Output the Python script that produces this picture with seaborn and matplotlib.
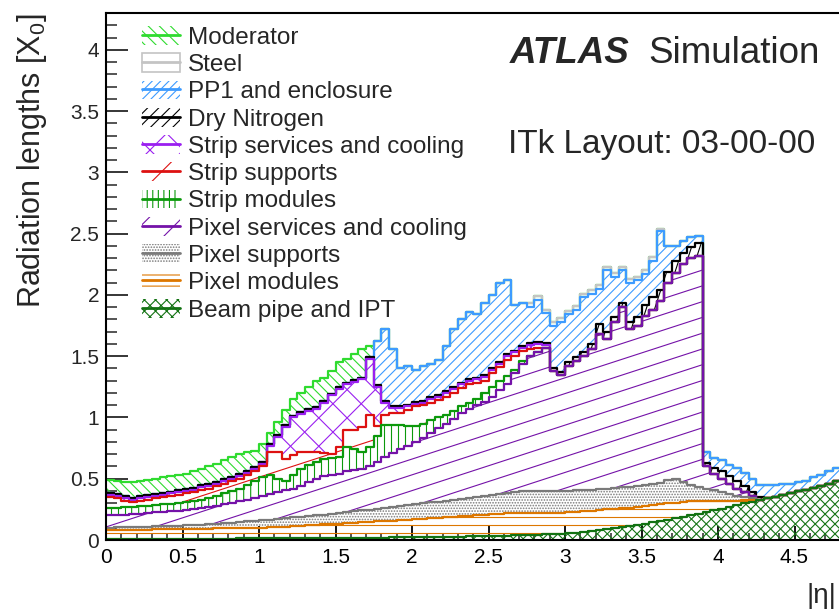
import numpy as np
import matplotlib
matplotlib.use("Agg")
import matplotlib.pyplot as plt
import seaborn as sns
from matplotlib.collections import LineCollection
from matplotlib.patches import Patch
from matplotlib.lines import Line2D
from matplotlib.legend_handler import HandlerTuple
from matplotlib.ticker import MultipleLocator, FixedLocator, FuncFormatter

sns.set_theme(style="ticks")
plt.rcParams["font.family"] = ["Liberation Sans", "DejaVu Sans"]
plt.rcParams["mathtext.fontset"] = "custom"
plt.rcParams["mathtext.rm"] = "Liberation Sans"
plt.rcParams["mathtext.it"] = "Liberation Sans:italic"
plt.rcParams["hatch.linewidth"] = 0.8

# |eta| bins, width 0.05
eta_edges = np.linspace(0, 5, 101)
x_ticks = [0, 0.5, 1, 1.5, 2, 2.5, 3, 3.5, 4, 4.5]

# upper edge of each stacked layer per bin (0 = layer absent in that bin)
beam_pipe_top = [
    0.010, 0.010, 0.010, 0.010, 0.010, 0.010, 0.010, 0.010, 0.011, 0.011,
    0.011, 0.011, 0.011, 0.012, 0.012, 0.012, 0.012, 0.013, 0.013, 0.013,
    0.013, 0.014, 0.014, 0.014, 0.015, 0.015, 0.015, 0.016, 0.016, 0.017,
    0.017, 0.018, 0.018, 0.019, 0.019, 0.020, 0.020, 0.021, 0.021, 0.022,
    0.022, 0.023, 0.024, 0.025, 0.026, 0.027, 0.028, 0.029, 0.030, 0.032,
    0.033, 0.035, 0.036, 0.038, 0.040, 0.042, 0.044, 0.046, 0.049, 0.052,
    0.055, 0.060, 0.066, 0.072, 0.080, 0.088, 0.096, 0.105, 0.114, 0.123,
    0.133, 0.143, 0.154, 0.166, 0.178, 0.190, 0.203, 0.216, 0.229, 0.242,
    0.256, 0.270, 0.284, 0.298, 0.312, 0.326, 0.340, 0.354, 0.368, 0.382,
    0.396, 0.410, 0.426, 0.442, 0.460, 0.480, 0.505, 0.530, 0.550, 0.570]

pixel_modules_top = [
    0.080, 0.081, 0.082, 0.083, 0.084, 0.085, 0.086, 0.087, 0.088, 0.089,
    0.090, 0.091, 0.092, 0.093, 0.094, 0.095, 0.096, 0.097, 0.098, 0.099,
    0.100, 0.103, 0.106, 0.110, 0.113, 0.117, 0.120, 0.124, 0.127, 0.131,
    0.134, 0.138, 0.141, 0.145, 0.148, 0.152, 0.155, 0.159, 0.162, 0.166,
    0.170, 0.174, 0.178, 0.182, 0.186, 0.190, 0.194, 0.198, 0.202, 0.206,
    0.210, 0.214, 0.218, 0.220, 0.220, 0.220, 0.221, 0.222, 0.222, 0.223,
    0.225, 0.230, 0.235, 0.240, 0.245, 0.250, 0.255, 0.260, 0.265, 0.270,
    0.276, 0.282, 0.290, 0.298, 0.305, 0.312, 0.318, 0.322, 0.322, 0.321,
    0.320, 0.320, 0.322, 0.325, 0.328, 0, 0, 0, 0, 0,
    0, 0, 0, 0, 0, 0, 0, 0, 0, 0]

pixel_supports_top = [
    0.100, 0.102, 0.104, 0.106, 0.108, 0.110, 0.112, 0.114, 0.116, 0.118,
    0.120, 0.123, 0.126, 0.130, 0.134, 0.138, 0.142, 0.147, 0.152, 0.156,
    0.160, 0.166, 0.172, 0.178, 0.184, 0.190, 0.196, 0.202, 0.208, 0.214,
    0.220, 0.227, 0.234, 0.241, 0.248, 0.255, 0.262, 0.269, 0.276, 0.283,
    0.290, 0.298, 0.306, 0.314, 0.322, 0.330, 0.338, 0.346, 0.354, 0.362,
    0.370, 0.378, 0.386, 0.394, 0.400, 0.402, 0.402, 0.400, 0.398, 0.400,
    0.402, 0.404, 0.406, 0.410, 0.415, 0.420, 0.425, 0.430, 0.436, 0.442,
    0.448, 0.455, 0.462, 0.490, 0.500, 0.470, 0.445, 0.435, 0.420, 0.405,
    0.390, 0.375, 0.360, 0.350, 0.340, 0, 0, 0, 0, 0,
    0, 0, 0, 0, 0, 0, 0, 0, 0, 0]

pixel_services_top = [
    0.200, 0.200, 0.205, 0.210, 0.215, 0.220, 0.225, 0.230, 0.235, 0.240,
    0.245, 0.250, 0.260, 0.270, 0.280, 0.290, 0.300, 0.315, 0.330, 0.345,
    0.360, 0.375, 0.390, 0.410, 0.420, 0.440, 0.470, 0.500, 0.520, 0.530,
    0.540, 0.560, 0.570, 0.580, 0.600, 0.640, 0.680, 0.710, 0.740, 0.770,
    0.800, 0.830, 0.870, 0.910, 0.950, 0.990, 1.040, 1.070, 1.100, 1.130,
    1.170, 1.220, 1.270, 1.360, 1.440, 1.500, 1.530, 1.570, 1.380, 1.350,
    1.420, 1.460, 1.500, 1.560, 1.680, 1.640, 1.780, 1.900, 1.720, 1.750,
    1.830, 1.880, 1.950, 2.100, 2.180, 2.250, 2.300, 2.320, 0.600, 0.540,
    0.500, 0.460, 0.420, 0.390, 0.360, 0, 0, 0, 0, 0,
    0, 0, 0, 0, 0, 0, 0, 0, 0, 0]

strip_modules_top = [
    0.260, 0.265, 0.270, 0.270, 0.275, 0.280, 0.285, 0.290, 0.290, 0.300,
    0.310, 0.320, 0.330, 0.340, 0.360, 0.380, 0.400, 0.420, 0.450, 0.480,
    0.510, 0.530, 0.500, 0.480, 0.530, 0.580, 0.610, 0.640, 0.660, 0.670,
    0.680, 0.760, 0.740, 0.720, 0.760, 0.850, 0.940, 0.940, 0.940, 0.930,
    0.930, 0.950, 0.980, 1.000, 1.020, 1.050, 1.090, 1.120, 1.150, 1.200,
    1.250, 1.300, 1.340, 1.390, 1.460, 0, 0, 0, 0, 0,
    0, 0, 0, 0, 0, 0, 0, 0, 0, 0,
    0, 0, 0, 0, 0, 0, 0, 0, 0, 0,
    0, 0, 0, 0, 0, 0, 0, 0, 0, 0,
    0, 0, 0, 0, 0, 0, 0, 0, 0, 0]

strip_supports_top = [
    0.350, 0.340, 0.320, 0.310, 0.320, 0.330, 0.340, 0.350, 0.360, 0.370,
    0.380, 0.390, 0.410, 0.420, 0.440, 0.460, 0.480, 0.500, 0.530, 0.560,
    0.600, 0.720, 0.720, 0.660, 0.690, 0.720, 0.720, 0.720, 0.710, 0.700,
    0.760, 0.900, 0.900, 0.920, 1.020, 0.930, 1.020, 1.040, 1.040, 1.060,
    1.090, 1.100, 1.120, 1.140, 1.170, 1.200, 1.240, 1.270, 1.280, 1.300,
    1.360, 1.410, 1.470, 1.500, 1.540, 1.560, 1.570, 1.560, 0, 0,
    0, 0, 0, 0, 0, 0, 0, 0, 0, 0,
    0, 0, 0, 0, 0, 0, 0, 0, 0, 0,
    0, 0, 0, 0, 0, 0, 0, 0, 0, 0,
    0, 0, 0, 0, 0, 0, 0, 0, 0, 0]

strip_services_top = [
    0.370, 0.360, 0.340, 0.330, 0.340, 0.350, 0.360, 0.370, 0.380, 0.390,
    0.400, 0.410, 0.430, 0.440, 0.460, 0.480, 0.500, 0.520, 0.550, 0.580,
    0.620, 0.770, 0.840, 0.920, 1.000, 1.030, 1.050, 1.070, 1.120, 1.180,
    1.230, 1.270, 1.290, 1.310, 1.480, 1.250, 1.120, 1.080, 1.080, 1.090,
    1.110, 1.120, 1.150, 1.170, 1.200, 1.230, 1.270, 1.300, 1.310, 1.330,
    1.390, 1.440, 1.500, 1.530, 1.570, 1.590, 1.600, 1.590, 0, 0,
    0, 0, 0, 0, 0, 0, 0, 0, 0, 0,
    0, 0, 0, 0, 0, 0, 0, 0, 0, 0,
    0, 0, 0, 0, 0, 0, 0, 0, 0, 0,
    0, 0, 0, 0, 0, 0, 0, 0, 0, 0]

dry_nitrogen_top = [
    0.385, 0.375, 0.355, 0.345, 0.355, 0.365, 0.375, 0.385, 0.395, 0.405,
    0.415, 0.425, 0.445, 0.455, 0.475, 0.495, 0.515, 0.535, 0.565, 0.595,
    0.635, 0.785, 0.855, 0.935, 1.015, 1.045, 1.065, 1.085, 1.135, 1.195,
    1.245, 1.285, 1.305, 1.325, 1.495, 1.265, 1.135, 1.095, 1.095, 1.105,
    1.125, 1.135, 1.165, 1.185, 1.215, 1.245, 1.285, 1.315, 1.325, 1.345,
    1.405, 1.455, 1.515, 1.545, 1.585, 1.605, 1.615, 1.605, 1.400, 1.370,
    1.450, 1.490, 1.530, 1.600, 1.760, 1.700, 1.820, 1.930, 1.780, 1.820,
    1.920, 1.980, 2.040, 2.190, 2.280, 2.340, 2.390, 2.420, 0.630, 0.590,
    0.560, 0.520, 0.480, 0.440, 0.390, 0.350, 0, 0, 0, 0,
    0, 0, 0, 0, 0, 0, 0, 0, 0, 0]

pp1_top = [
    0, 0, 0, 0, 0, 0, 0, 0, 0, 0,
    0, 0, 0, 0, 0, 0, 0, 0, 0, 0,
    0, 0, 0, 0, 0, 0, 0, 0, 0, 0,
    0, 0, 0, 0, 0, 1.620, 1.720, 1.560, 1.400, 1.420,
    1.390, 1.420, 1.440, 1.470, 1.580, 1.720, 1.800, 1.860, 1.840, 1.930,
    2.000, 2.100, 2.120, 1.920, 1.930, 1.900, 1.960, 1.850, 1.750, 1.780,
    1.840, 1.880, 1.980, 2.010, 2.050, 2.200, 2.150, 2.200, 2.100, 2.120,
    2.170, 2.280, 2.520, 2.400, 2.400, 2.440, 2.470, 2.480, 0.720, 0.670,
    0.650, 0.610, 0.590, 0.550, 0.500, 0.450, 0.450, 0.450, 0.460, 0.460,
    0.470, 0.480, 0.510, 0.530, 0.560, 0.590, 0.620, 0.640, 0.660, 0.680]

steel_top = [
    0, 0, 0, 0, 0, 0, 0, 0, 0, 0,
    0, 0, 0, 0, 0, 0, 0, 0, 0, 0,
    0, 0, 0, 0, 0, 0, 0, 0, 0, 0,
    0, 0, 0, 0, 0, 0, 0, 0, 0, 0,
    0, 0, 0, 0, 0, 0, 0, 0, 0, 0,
    0, 0, 0, 0, 0, 1.930, 1.990, 1.880, 1.780, 1.810,
    1.870, 1.910, 2.010, 2.040, 2.080, 2.230, 2.180, 2.230, 2.130, 2.150,
    2.200, 2.310, 2.540, 0, 0, 0, 0, 0, 0, 0,
    0, 0, 0, 0, 0, 0, 0, 0, 0, 0,
    0, 0, 0, 0, 0, 0, 0, 0, 0, 0]

moderator_top = [
    0.490, 0.480, 0.470, 0.470, 0.480, 0.490, 0.500, 0.510, 0.520, 0.530,
    0.540, 0.560, 0.580, 0.600, 0.620, 0.650, 0.680, 0.700, 0.720, 0.730,
    0.780, 0.870, 0.960, 1.060, 1.150, 1.200, 1.250, 1.300, 1.320, 1.380,
    1.450, 1.480, 1.520, 1.560, 1.580, 0, 0, 0, 0, 0,
    0, 0, 0, 0, 0, 0, 0, 0, 0, 0,
    0, 0, 0, 0, 0, 0, 0, 0, 0, 0,
    0, 0, 0, 0, 0, 0, 0, 0, 0, 0,
    0, 0, 0, 0, 0, 0, 0, 0, 0, 0,
    0, 0, 0, 0, 0, 0, 0, 0, 0, 0,
    0, 0, 0, 0, 0, 0, 0, 0, 0, 0]

# bottom -> top: label, values, colour, hatch lines (angle, spacing px), legend hatch
layers = [
    ("Beam pipe and IPT", beam_pipe_top, "#127212", [(45, 7), (135, 7)], "xxx"),
    ("Pixel modules", pixel_modules_top, "#dd7700", [(0, 8)], "---"),
    ("Pixel supports", pixel_supports_top, "#7a7a7a", [], "......"),
    ("Pixel services and cooling", pixel_services_top, "#7412a8", [(18, 15)], "/"),
    ("Strip modules", strip_modules_top, "#0c990c", [(90, 7)], "|||"),
    ("Strip supports", strip_supports_top, "#dd1111", [(18, 40)], "/"),
    ("Strip services and cooling", strip_services_top, "#9a1ff0", [(45, 20), (135, 20)], "x"),
    ("Dry Nitrogen", dry_nitrogen_top, "black", [(72, 8)], "///"),
    ("PP1 and enclosure", pp1_top, "#3d9bff", [(45, 7)], "////"),
    ("Steel", steel_top, "#c4c4c4", [], ""),
    ("Moderator", moderator_top, "#2fdb2f", [(135, 7)], "\\\\\\"),
]

fig = plt.figure(figsize=(8.39, 6.12), dpi=100)
ax = fig.add_axes([106 / 839, 72 / 612, 765 / 839, 527 / 612])
W, H = 765.0, 527.0


def add_hatch(ax, poly, angle, spacing, color):
    a = np.deg2rad(angle)
    d = np.array([np.cos(a), np.sin(a)])
    n = np.array([-np.sin(a), np.cos(a)])
    L = np.hypot(W, H)
    c = np.array([W / 2, H / 2])
    segs = []
    for k in np.arange(-int(L / spacing) - 2, int(L / spacing) + 3):
        p = c + k * spacing * n
        p1, p2 = p - d * L, p + d * L
        segs.append([(p1[0] / W, p1[1] / H), (p2[0] / W, p2[1] / H)])
    lc = LineCollection(segs, colors=color, linewidths=0.8, transform=ax.transAxes)
    lc.set_clip_path(poly.get_paths()[0], ax.transData)
    ax.add_collection(lc, autolim=False)


tops = np.maximum.accumulate(np.vstack([np.array(l[1]) for l in layers]), axis=0)
lows = np.vstack([np.zeros(tops.shape[1]), tops[:-1]])

for i, (label, vals, color, hlines, lhatch) in enumerate(layers):
    lo = np.append(lows[i], lows[i][-1])
    hi = np.append(tops[i], tops[i][-1])
    if label == "Pixel supports":
        poly = ax.fill_between(eta_edges, lo, hi, step="post", facecolor="none",
                               edgecolor=color, hatch="......", linewidth=0)
    else:
        poly = ax.fill_between(eta_edges, lo, hi, step="post", facecolor="none",
                               edgecolor="none", linewidth=0)
    for ang, sp in hlines:
        add_hatch(ax, poly, ang, sp, color)

# outlines: upper layers first so lower ones sit on top where they coincide
for i in range(len(layers) - 1, -1, -1):
    color = layers[i][2]
    hi = np.append(tops[i], tops[i][-1])
    sns.lineplot(x=eta_edges, y=hi, drawstyle="steps-post", color=color,
                 linewidth=1.6, estimator=None, sort=False, ax=ax)

ax.set_xlim(0, 5)
ax.set_ylim(0, 4.3)
ax.xaxis.set_major_locator(FixedLocator(x_ticks))
ax.xaxis.set_minor_locator(MultipleLocator(0.1))
ax.yaxis.set_major_locator(MultipleLocator(0.5))
ax.yaxis.set_minor_locator(MultipleLocator(0.1))
fmt = FuncFormatter(lambda v, _: f"{v:g}")
ax.xaxis.set_major_formatter(fmt)
ax.yaxis.set_major_formatter(fmt)
ax.tick_params(axis="x", which="major", direction="in", length=10, width=1.3,
               labelsize=15, pad=6, colors="black")
ax.tick_params(axis="x", which="minor", direction="in", length=4.7, width=1.1)
ax.tick_params(axis="y", which="major", direction="in", length=15.5, width=1.3,
               labelsize=15, pad=5)
ax.tick_params(axis="y", which="minor", direction="in", length=7.7, width=1.1)
ax.tick_params(top=False, right=False)
for s in ax.spines.values():
    s.set_linewidth(1.5)
    s.set_color("black")
ax.set_xlabel("")
ax.set_ylabel("")

# legend
handles, labels = [], []
for label, vals, color, hlines, lhatch in layers[::-1]:
    if label == "Steel":
        p = Patch(facecolor="none", edgecolor=color, linewidth=1.2)
    else:
        p = Patch(facecolor="none", edgecolor=color, hatch=lhatch, linewidth=0)
    ln = Line2D([], [], color=color, linewidth=2)
    handles.append((p, ln))
    labels.append(label)
fig.legend(handles, labels, handler_map={tuple: HandlerTuple(ndivide=1)},
           loc="upper left", bbox_to_anchor=(142 / 839, 1 - 26 / 612),
           frameon=False, fontsize=17.5, handlelength=1.56, handleheight=0.82,
           handletextpad=0.33, labelspacing=0.18, borderpad=0, borderaxespad=0)

fig.text(510 / 839, 1 - 63 / 612, "ATLAS", fontsize=26.5, fontweight="bold",
         fontstyle="italic", va="baseline")
fig.text(648 / 839, 1 - 63 / 612, "Simulation", fontsize=26.5, va="baseline")
fig.text(508 / 839, 1 - 153 / 612, "ITk Layout: 03-00-00", fontsize=24, va="baseline")
fig.text(0.038, 1 - 161 / 612, "Radiation lengths [X$_0$]", rotation=90,
         ha="center", va="center", fontsize=22)
fig.text(836 / 839, 1 - 603 / 612, "|η|", fontsize=20, ha="right", va="baseline")

fig.savefig("out.png", dpi=100)
